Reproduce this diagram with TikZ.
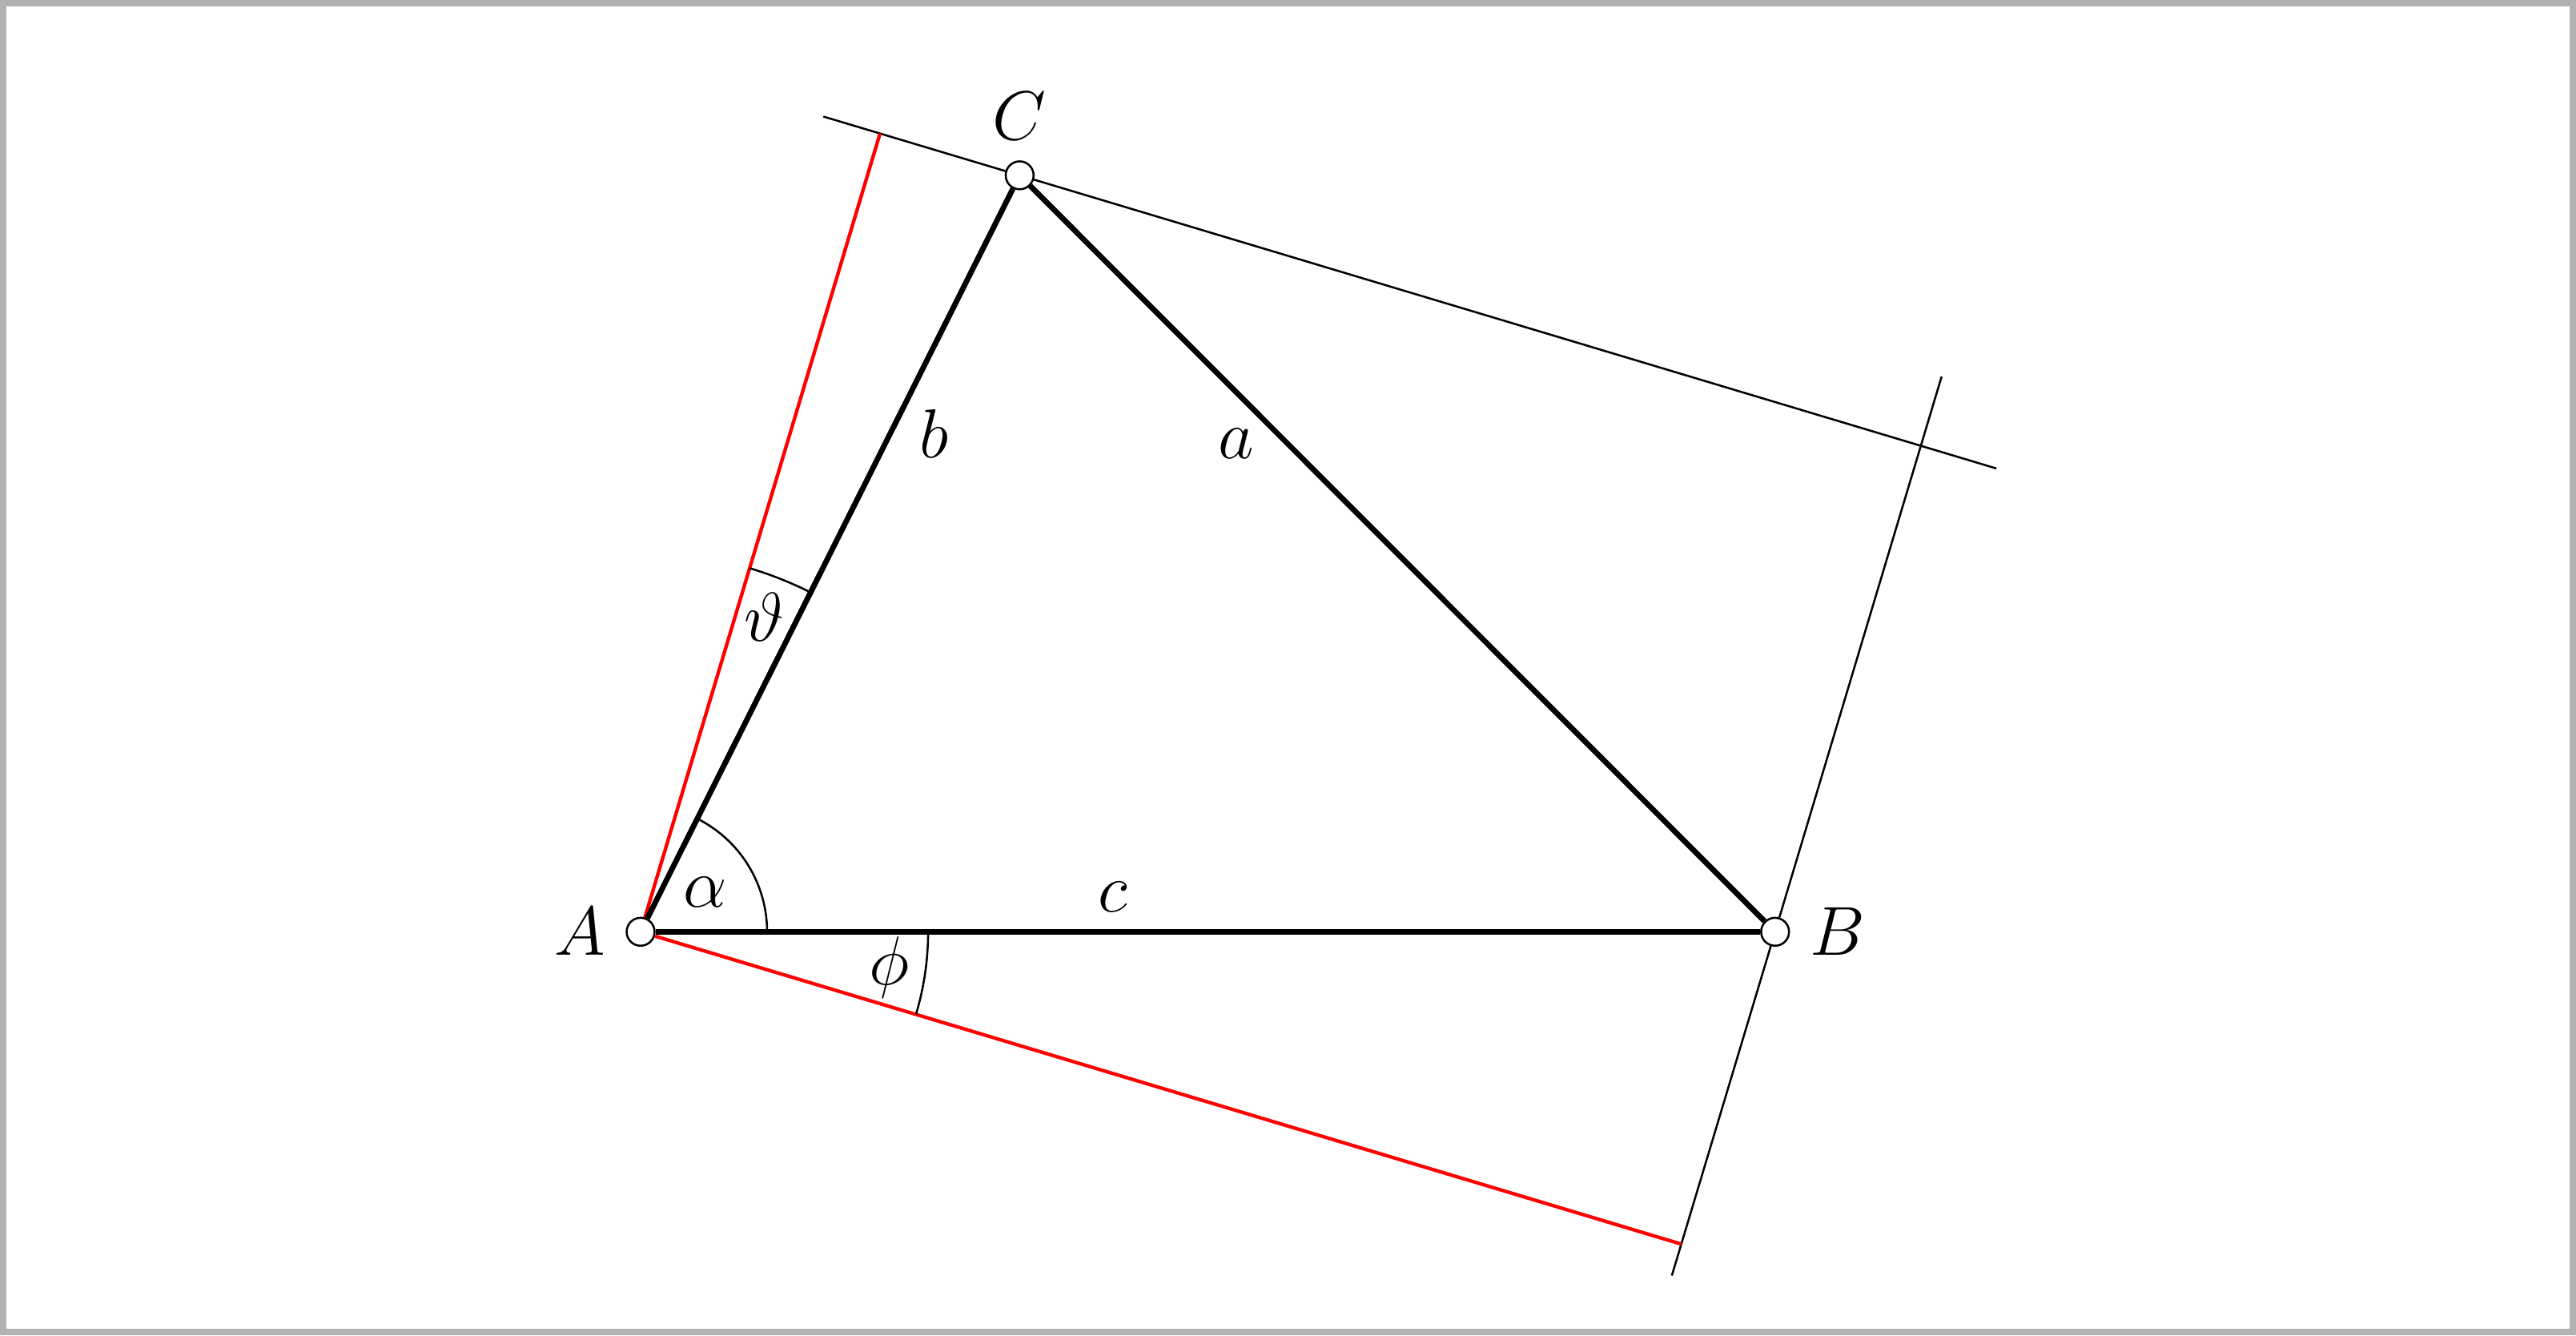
\documentclass[tikz,border=0pt]{standalone}
\usetikzlibrary{calc}
\begin{document}
\begin{tikzpicture}[font=\large,label distance=0mm]
    \tikzstyle{point}=[draw,shape=circle,fill=white,inner sep=0pt,minimum size=1.7mm,line width=0.35pt];
    \tikzstyle{side}=[draw,line width=0.95pt];
    \tikzstyle{aux}=[draw,line width=0.35pt];
    \tikzstyle{proj}=[draw,red,line width=0.6pt];
    \useasboundingbox (-3.899,-2.455) rectangle (11.780,5.670);
    \draw[black!30,line width=1.1pt] (-3.880,-2.436) rectangle (11.761,5.651);

    \node[point] at (0, 0)         (A) [label=left:$A$]  {};
    \node[point] at (6.905, 0)     (B) [label=right:$B$] {};
    \node[point] at (2.307, 4.603) (C) [label=above:$C$] {};

    % rotated rectangle round the triangle, phi = 16.7
    \coordinate (Au) at (73.3:1);
    \coordinate (Ad) at (-16.7:1);
    \coordinate (Bu) at ($(B)+(73.3:1)$);
    \coordinate (tC) at ($(A)!(C)!(Au)$);
    \coordinate (fB) at ($(A)!(B)!(Ad)$);
    \coordinate (K)  at ($(B)!(C)!(Bu)$);

    \draw[aux] (tC) -- (C);
    \draw[aux] ($(tC)!-0.36cm!(C)$) -- (tC);
    \draw[aux] (C) -- (K);
    \draw[aux] (K) -- ($(K)!-0.48cm!(C)$);
    \draw[aux] (fB) -- (B);
    \draw[aux] ($(fB)!-0.2cm!(B)$) -- (fB);
    \draw[aux] (B) -- (K);
    \draw[aux] (K) -- ($(K)!-0.44cm!(B)$);
    \draw[proj] (A) -- (tC);
    \draw[proj] (A) -- (fB);

    \draw[side] (A) -- (B);
    \draw[side] (B) -- (C);
    \draw[side] (C) -- (A);

    % angles
    \draw[aux] (0.77, 0) arc (0:63.38:0.77);
    \draw[aux] (63.38:2.31) arc (63.38:73.3:2.31);
    \draw[aux] (-16.7:1.75) arc (-16.7:0:1.75);
    \node at (31.7:0.46)   (al) {$\alpha$};
    \node at (68.5:2.06)   (th) {$\vartheta$};
    \node at (-8.2:1.527)  (ph) {$\phi$};

    \node at (3.626, 2.970) (la) {$a$};
    \node at (1.784, 3.030) (lb) {$b$};
    \node at (2.876, 0.211) (lc) {$c$};
\end{tikzpicture}
\end{document}
